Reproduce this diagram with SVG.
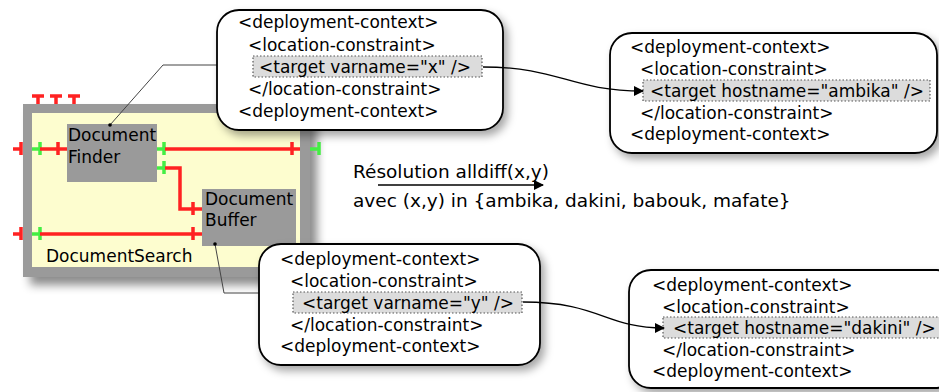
<svg xmlns="http://www.w3.org/2000/svg" width="939" height="392" viewBox="0 0 939 392">
<defs>
<filter id="sh" x="-10%" y="-10%" width="130%" height="140%">
<feDropShadow dx="4" dy="5" stdDeviation="4" flood-color="#000" flood-opacity="0.35"/>
</filter>
<filter id="sh2" x="-10%" y="-10%" width="130%" height="140%">
<feDropShadow dx="7" dy="8" stdDeviation="5" flood-color="#000" flood-opacity="0.45"/>
</filter>
<marker id="ah" viewBox="0 0 10 10" refX="9" refY="5" markerWidth="10" markerHeight="10" markerUnits="userSpaceOnUse" orient="auto">
<path d="M0,0 L10,5 L0,10 z" fill="#000"/>
</marker>
</defs>
<style>
text{font-family:"DejaVu Sans","Liberation Sans",sans-serif;fill:#000}
.t{font-size:17px}
.c{font-size:18.5px}
.red{stroke:#ff2222;stroke-width:3.5;fill:none}
.grn{stroke:#44ee44;stroke-width:3.5;fill:none}
.box{fill:#fff;stroke:#000;stroke-width:1.8}
.hl{fill:#dcdcdc;stroke:#555;stroke-width:1.2;stroke-dasharray:1.5 2}
.node{fill:#9a9a9a}
.lead{stroke:#444;stroke-width:1;fill:none}
.conn{stroke:#000;stroke-width:1.3;fill:none}
</style>
<rect width="939" height="392" fill="#fff"/>

<g id="DocumentSearch">
<rect x="23" y="104" width="287" height="173" fill="#9a9a9a" filter="url(#sh2)"/>
<rect x="32" y="113" width="268" height="154" fill="#fdfdcf"/>
<text class="t" x="46" y="262">DocumentSearch</text>
<path class="red" d="M32,96 H44 M38,96 V104 M50,96 H62 M56,96 V104 M68,96 H80 M74,96 V104"/>
<path class="red" d="M13,149 H21 M21,142 V155 M13,234 H21 M21,227 V240"/>
<path class="grn" d="M32,149 H40 M40,142 V155 M32,234 H40 M40,227 V240"/>
<path class="grn" d="M310,149 H319 M319,142 V155"/>
</g>

<g id="DocumentFinder">
<rect class="node" x="67" y="124" width="90" height="58"/>
<text class="t" x="68" y="141">Document</text>
<text class="t" x="68" y="163">Finder</text>
<path class="grn" d="M157,149 H165 M164,142 V155 M157,168 H165 M164,161 V174"/>
</g>

<g id="DocumentBuffer">
<rect class="node" x="202" y="189" width="94" height="57"/>
<text class="t" x="205" y="205">Document</text>
<text class="t" x="205" y="226">Buffer</text>
</g>

<g id="connectors">
<path class="red" d="M40,149 H67 M58,142 V155"/>
<path class="red" d="M165,149 H300 M292,142 V155"/>
<path class="red" d="M165,168 H180 V209 H202 M193,202 V215"/>
<path class="red" d="M40,234 H202 M193,227 V240"/>
<path class="lead" d="M217,65 H163 L110,125"/>
<circle cx="110" cy="125" r="1.8" fill="#000"/>
<path class="lead" d="M215,244 L224,293 H259"/>
<circle cx="215" cy="244" r="1.8" fill="#000"/>
<path class="conn" d="M378,185 H543" marker-end="url(#ah)"/>
</g>

<g id="callout1">
<rect class="box" x="217" y="10" width="286" height="120" rx="22" filter="url(#sh)"/>
<rect class="hl" x="253" y="56" width="229" height="21"/>
<text class="t" x="238" y="28">&lt;deployment-context&gt;</text>
<text class="t" x="248" y="51">&lt;location-constraint&gt;</text>
<text class="t" x="259" y="73">&lt;target varname="x" /&gt;</text>
<text class="t" x="248" y="95">&lt;/location-constraint&gt;</text>
<text class="t" x="238" y="117">&lt;deployment-context&gt;</text>
</g>

<g id="callout2">
<rect class="box" x="610" y="33" width="327" height="120" rx="22" filter="url(#sh)"/>
<rect class="hl" x="643" y="80" width="287" height="21"/>
<text class="t" x="630" y="53">&lt;deployment-context&gt;</text>
<text class="t" x="640" y="75">&lt;location-constraint&gt;</text>
<text class="t" x="650" y="97">&lt;target hostname="ambika" /&gt;</text>
<text class="t" x="640" y="119">&lt;/location-constraint&gt;</text>
<text class="t" x="630" y="140">&lt;deployment-context&gt;</text>
</g>

<g id="callout3">
<rect class="box" x="259" y="244" width="281" height="121" rx="22" filter="url(#sh)"/>
<rect class="hl" x="293" y="292" width="229" height="21"/>
<text class="t" x="280" y="265">&lt;deployment-context&gt;</text>
<text class="t" x="290" y="287">&lt;location-constraint&gt;</text>
<text class="t" x="302" y="309">&lt;target varname="y" /&gt;</text>
<text class="t" x="290" y="331">&lt;/location-constraint&gt;</text>
<text class="t" x="280" y="352">&lt;deployment-context&gt;</text>
</g>

<g id="callout4">
<rect class="box" x="629" y="270" width="330" height="118" rx="22" filter="url(#sh)"/>
<rect class="hl" x="663" y="317" width="290" height="21"/>
<text class="t" x="652" y="291">&lt;deployment-context&gt;</text>
<text class="t" x="662" y="313">&lt;location-constraint&gt;</text>
<text class="t" x="673" y="334">&lt;target hostname="dakini" /&gt;</text>
<text class="t" x="662" y="356">&lt;/location-constraint&gt;</text>
<text class="t" x="652" y="377">&lt;deployment-context&gt;</text>
</g>

<g id="arrows">
<path class="conn" d="M483,67 C560,67 570,91 643,91" marker-end="url(#ah)"/>
<path class="conn" d="M523,302 C600,302 605,328 664,328" marker-end="url(#ah)"/>
</g>

<g id="resolution">
<text class="c" x="353" y="178">Résolution alldiff(x,y)</text>
<text class="c" x="353" y="207">avec (x,y) in {ambika, dakini, babouk, mafate}</text>
</g>
</svg>
